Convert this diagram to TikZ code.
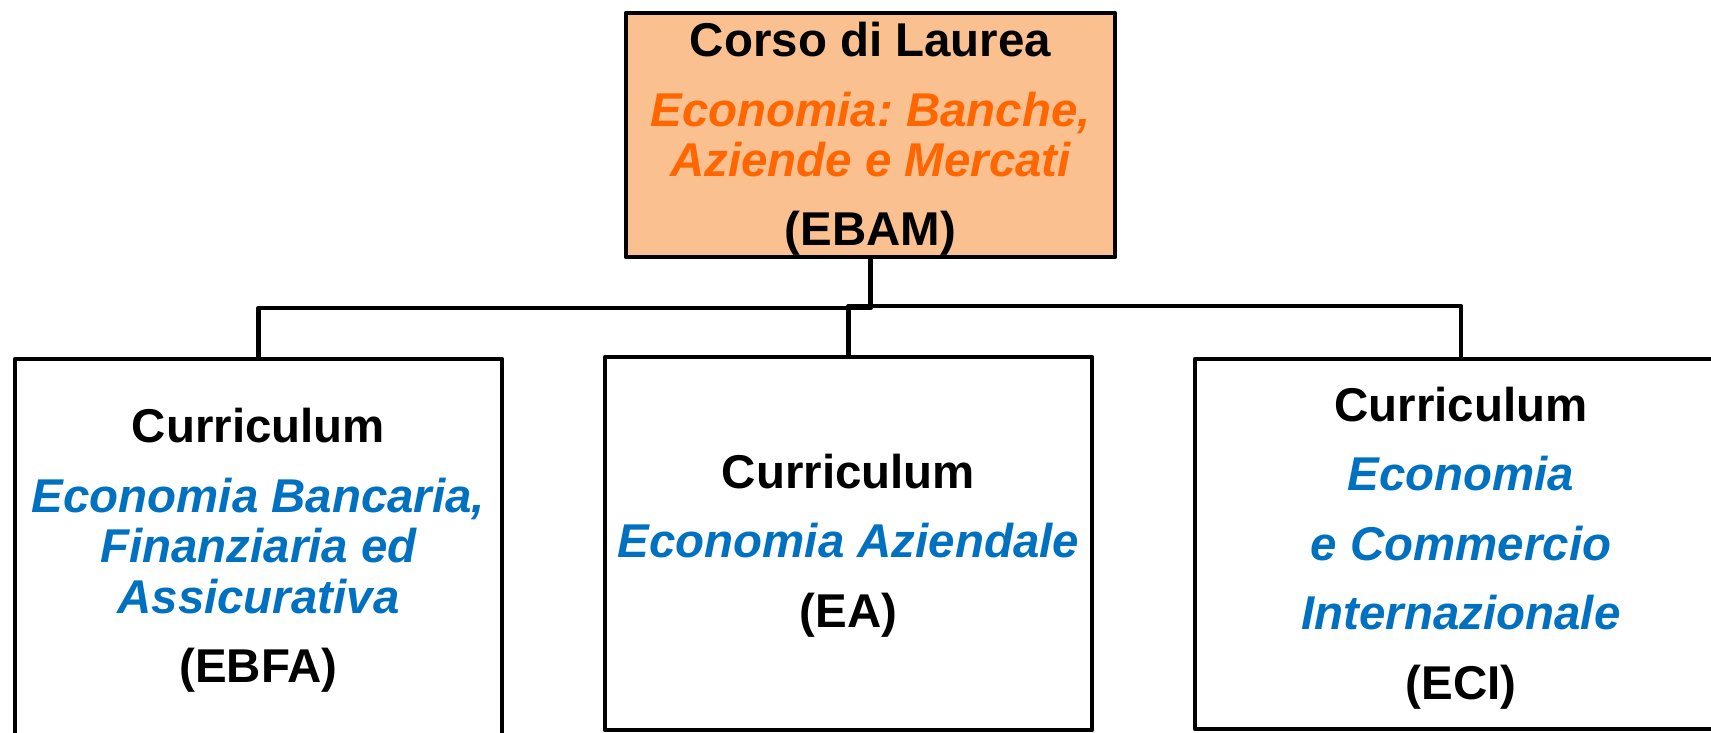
\documentclass[tikz,border=0pt]{standalone}
\usepackage{fontspec}
\setmainfont{Liberation Sans}
\usepackage{tikz}
\frenchspacing

\definecolor{peach}{RGB}{250,192,144}
\definecolor{ebamorange}{RGB}{255,102,0}
\definecolor{currblue}{RGB}{0,112,192}

\newcommand{\orangeit}[1]{\textcolor{ebamorange}{\itshape #1}}
\newcommand{\blueit}[1]{\textcolor{currblue}{\itshape #1}}

\begin{document}
\begin{tikzpicture}[x=0.02cm, y=-0.02cm, line width=2.5pt, line join=round,
            box/.style={draw, rectangle, inner sep=0pt},
            label text/.style={inner sep=0pt, align=center,
                font=\fontsize{27}{28.7}\selectfont\bfseries}
        ]
        \useasboundingbox (0,0) rectangle (1711,733);
        % corso di laurea
        \node[box, fill=peach, minimum width=9.78cm, minimum height=4.88cm] (ebam) at (870.5,135) {};
        \node[label text] (ebamtext) at (870.5,139) {Corso di Laurea\\[10.8pt]
            \orangeit{Economia: Banche,}\\ \orangeit{Aziende e Mercati}\\[10.8pt]
            (EBAM)};
        % curricula
        \node[box, minimum width=9.74cm, minimum height=8.22cm] (ebfa) at (258.5,564.5) {};
        \node[label text] (ebfatext) at (258.5,550.5) {Curriculum\\[10.8pt]
            \blueit{Economia Bancaria,}\\ \blueit{Finanziaria ed}\\ \blueit{Assicurativa}\\[10.8pt]
            (EBFA)};
        \node[box, minimum width=9.74cm, minimum height=7.46cm] (ea) at (848.5,543.5) {};
        \node[label text] (eatext) at (848.5,545.5) {Curriculum\\[10.8pt]
            \blueit{Economia Aziendale}\\[10.8pt]
            (EA)};
        \node[box, minimum width=10.64cm, minimum height=7.4cm] (eci) at (1461,544) {};
        \node[label text] (ecitext) at (1461,548) {Curriculum\\[10.8pt]
            \blueit{Economia}\\[10.8pt] \blueit{e Commercio}\\[10.8pt] \blueit{Internazionale}\\[10.8pt]
            (ECI)};
        % connectors
        \coordinate (barL) at (0,308);
        \coordinate (barR) at (0,306);
        \draw (ebam.south) -- (ebam.south |- barL) -| (ebfa.north);
        \draw (ea.north) -- (ea.north |- barR) -| (eci.north);
    \end{tikzpicture}
\end{document}
